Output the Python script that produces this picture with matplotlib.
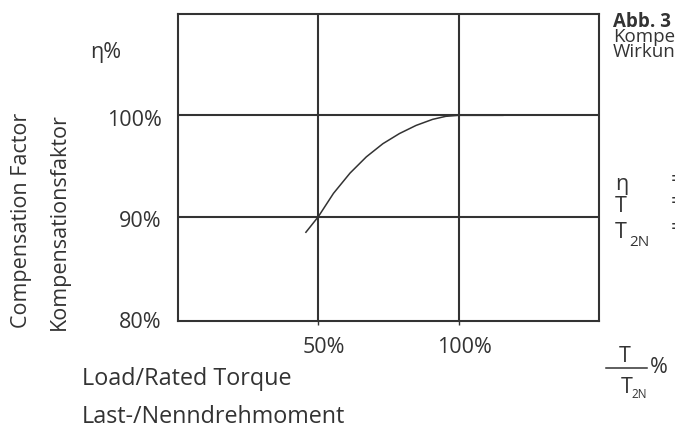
import matplotlib.pyplot as plt
import numpy as np

# data
load_pct = [45.4, 50.0, 55.4, 61.3, 67.1, 73.0, 78.9, 84.8, 90.7, 95.4, 100.0, 116.0]
comp_pct = [88.4, 90.0, 92.3, 94.3, 95.9, 97.2, 98.2, 99.0, 99.6, 99.9, 100.0, 100.0]

x_ticks = [50, 100]
x_tick_labels = ["50%", "100%"]
y_ticks = [80, 90, 100]
y_tick_labels = ["80%", "90%", "100%"]

W, H = 675, 428
INK = "#333333"
FONT = "Open Sans"

plt.rcParams['font.family'] = [FONT, 'DejaVu Sans']


def px(x, y):
    # pixel position (from top left) to figure fraction
    return x / W, 1 - y / H


fig = plt.figure(figsize=(W / 100, H / 100), dpi=100)

# axes box: left 178, right 599, top 14, bottom 321 (pixels)
ax = fig.add_axes([178 / W, 1 - 321 / H, (599 - 178) / W, (321 - 14) / H])
ax.set_xlim(0, 150)
ax.set_ylim(79.7, 110)

for s in ax.spines.values():
    s.set_color(INK)
    s.set_linewidth(1.5)

for xv in x_ticks:
    ax.axvline(xv, color=INK, lw=1.5)
for yv in y_ticks[1:]:
    ax.axhline(yv, color=INK, lw=1.5)

ax.plot(load_pct, comp_pct, color=INK, lw=1.1, solid_capstyle='butt')

ax.set_xticks(x_ticks)
ax.set_xticklabels([])
ax.set_yticks([])
ax.tick_params(axis='x', length=3, width=1, color=INK)

fs = 15.5

# tick labels placed like the reference
for xv, lab in zip(x_ticks, x_tick_labels):
    fig.text(*px(178 + xv * 2.82 + 4.5, 353), lab, ha='center', va='baseline',
             fontsize=fs, color=INK)
for yv, lab in zip(y_ticks, y_tick_labels):
    ypix = 321 - (yv - 79.7) * (307 / 30.3)
    fig.text(*px(162, ypix + 10.5), lab, ha='right', va='baseline',
             fontsize=fs, color=INK)

fig.text(*px(90, 58), "\u03b7%", ha='left', va='baseline', fontsize=fs, color=INK)

# rotated axis titles
fig.text(*px(22, 113), "Compensation Factor", rotation=90, ha='center', va='top',
         fontsize=fs, color=INK)
fig.text(*px(59, 113), "Kompensationsfaktor", rotation=90, ha='center', va='top',
         fontsize=fs, color=INK)

# x axis titles
fig.text(*px(82, 385), "Load/Rated Torque", ha='left', va='baseline', fontsize=16.8, color=INK)
fig.text(*px(82, 423), "Last-/Nenndrehmoment", ha='left', va='baseline', fontsize=16.8, color=INK)

# caption on the right, cut off by the figure edge
fs2 = 13.5
fig.text(*px(613, 27), "Abb. 3", ha='left', va='baseline', fontsize=fs2, color=INK,
         fontweight='bold')
fig.text(*px(613, 42), "Kompensationsfaktor", ha='left', va='baseline', fontsize=fs2, color=INK)
fig.text(*px(613, 57), "Wirkungsgrad", ha='left', va='baseline', fontsize=fs2, color=INK)

# legend of symbols
fig.text(*px(615, 190), "\u03b7", ha='left', va='baseline', fontsize=fs, color=INK)
fig.text(*px(615, 212), "T", ha='left', va='baseline', fontsize=fs, color=INK)
fig.text(*px(615, 238), "T", ha='left', va='baseline', fontsize=fs, color=INK)
fig.text(*px(629, 246), "2N", ha='left', va='baseline', fontsize=11, color=INK)
for ypix in (186, 208, 234):
    fig.text(*px(671, ypix), "=", ha='left', va='baseline', fontsize=fs, color=INK)

# fraction T / T2N %
fig.text(*px(625, 362), "T", ha='center', va='baseline', fontsize=fs, color=INK)
fig.add_artist(plt.Line2D([606 / W, 647 / W], [1 - 368 / H, 1 - 368 / H], color=INK, lw=1.1))
fig.text(*px(627, 393), "T", ha='center', va='baseline', fontsize=fs, color=INK)
fig.text(*px(631, 398), "2N", ha='left', va='baseline', fontsize=8.5, color=INK)
fig.text(*px(650, 373), "%", ha='left', va='baseline', fontsize=fs, color=INK)

fig.savefig("out.png", dpi=100)
